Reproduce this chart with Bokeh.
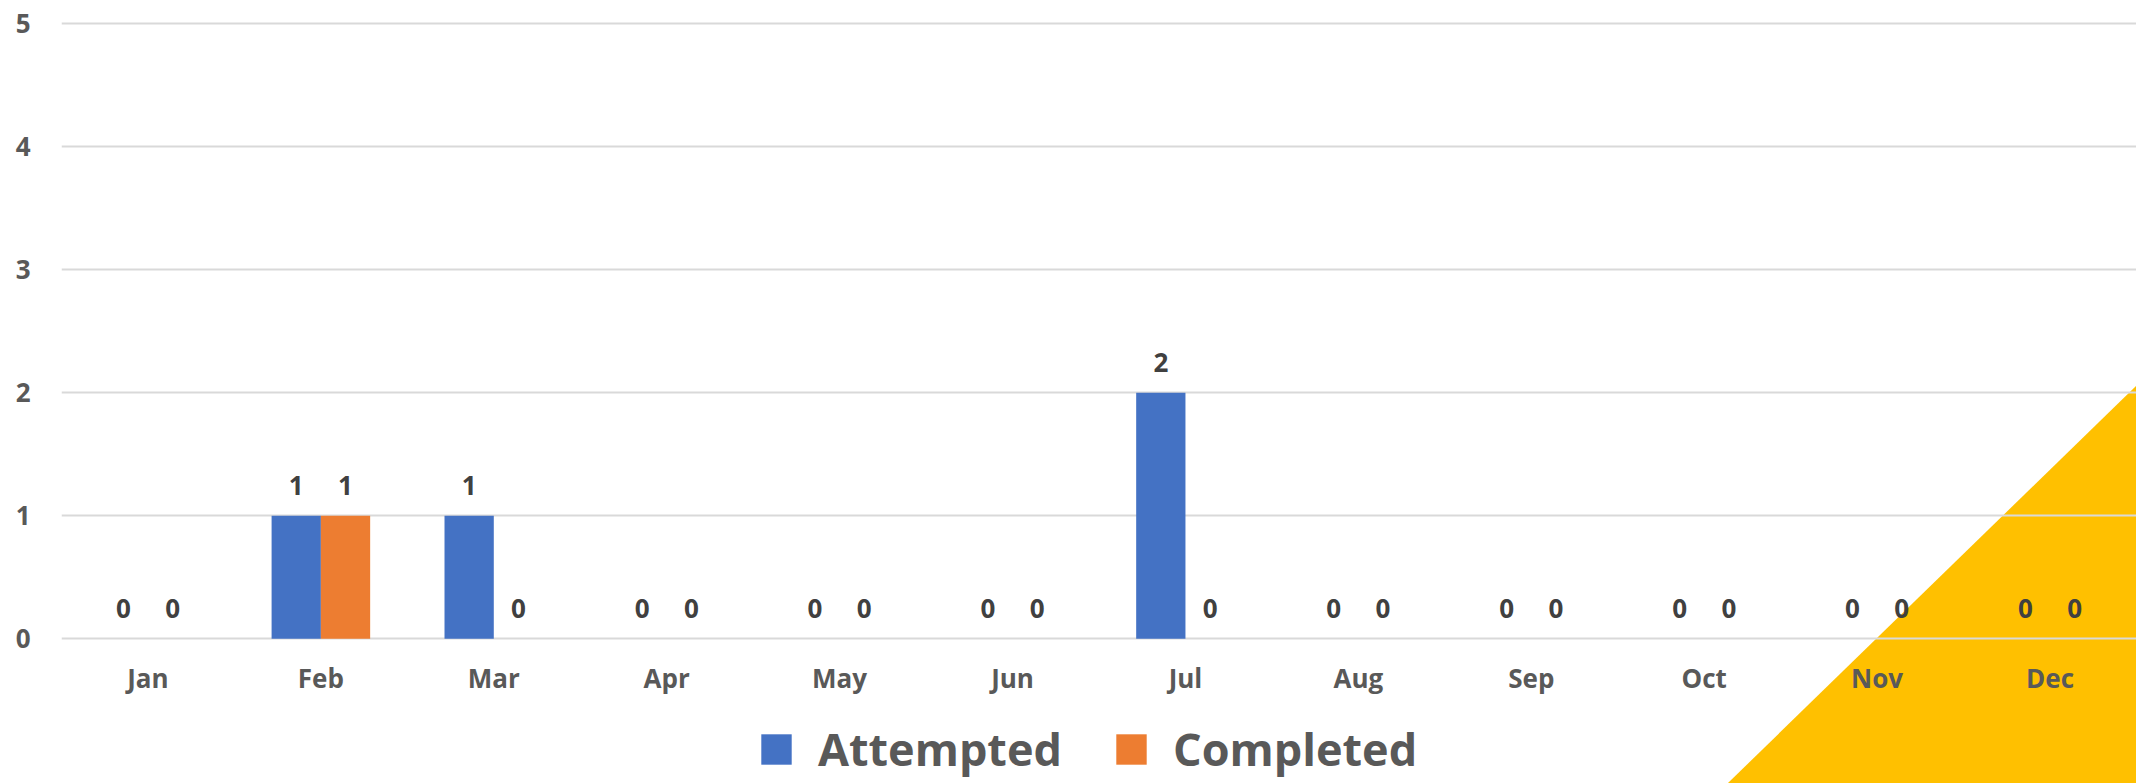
from bokeh.plotting import figure
from bokeh.models import (ColumnDataSource, FactorRange, Range1d, FixedTicker,
                          LabelSet, Legend, LegendItem, PolyAnnotation)
from bokeh.transform import dodge
from bokeh.core.properties import value
from bokeh.embed import file_html
from bokeh.resources import INLINE

months = ["Jan", "Feb", "Mar", "Apr", "May", "Jun",
          "Jul", "Aug", "Sep", "Oct", "Nov", "Dec"]
attempted = [0, 1, 1, 0, 0, 0, 2, 0, 0, 0, 0, 0]
completed = [0, 1, 0, 0, 0, 0, 0, 0, 0, 0, 0, 0]
y_ticks = [0, 1, 2, 3, 4, 5]
series_names = ["Attempted", "Completed"]

BLUE = "#4472C4"
ORANGE = "#ED7D31"
GRID = "#D9D9D9"
AXIS_TXT = "#595959"
LBL_TXT = "#404040"
FONT = "Open Sans"

source = ColumnDataSource(data=dict(
    month=months,
    attempted=attempted,
    completed=completed,
    att_txt=[str(v) for v in attempted],
    com_txt=[str(v) for v in completed],
))

W, H = 2136, 783
p = figure(width=W, height=H, x_range=FactorRange(*months),
           y_range=Range1d(-1.176, 5.065),
           output_backend="svg", toolbar_location=None, title=None,
           min_border_left=61, min_border_right=0, min_border_top=15,
           min_border_bottom=0)
p.outline_line_color = None
p.background_fill_color = None
p.border_fill_color = None

# decorative yellow corner triangle (screen units, relative to the frame)
tri = PolyAnnotation(xs=[2075, 2075, 1666], ys=[398, 0, 0],
                     xs_units="screen", ys_units="screen",
                     fill_color="#FFC000", fill_alpha=1.0, line_color=None,
                     level="image")
p.add_layout(tri)

bw = 0.285
r1 = p.vbar(x=dodge("month", -bw / 2, range=p.x_range), top="attempted", width=bw,
            source=source, fill_color=BLUE, line_color=None)
r2 = p.vbar(x=dodge("month", bw / 2, range=p.x_range), top="completed", width=bw,
            source=source, fill_color=ORANGE, line_color=None)

for col, txt, off in (("attempted", "att_txt", -bw / 2), ("completed", "com_txt", bw / 2)):
    ls = LabelSet(x=dodge("month", off, range=p.x_range), y=col, text=txt, source=source,
                  y_offset=30, text_align="center", text_baseline="middle",
                  text_font=value(FONT), text_font_size=value("26px"),
                  text_font_style="bold", text_color=LBL_TXT)
    p.add_layout(ls)

# grid
p.xgrid.grid_line_color = None
p.ygrid.grid_line_color = GRID
p.ygrid.grid_line_width = 2
p.yaxis.ticker = FixedTicker(ticks=y_ticks)
p.ygrid.ticker = FixedTicker(ticks=y_ticks)

p.xaxis.fixed_location = 0

for ax in (p.xaxis[0], p.yaxis[0]):
    ax.axis_line_color = None
    ax.major_tick_line_color = None
    ax.minor_tick_line_color = None
    ax.major_tick_out = 0
    ax.major_tick_in = 0
    ax.major_label_text_font = FONT
    ax.major_label_text_font_size = "26px"
    ax.major_label_text_font_style = "bold"
    ax.major_label_text_color = AXIS_TXT
p.yaxis.major_label_standoff = 31
p.xaxis.major_label_standoff = 21

for rend, name, lx in ((r1, series_names[0], 696), (r2, series_names[1], 1051)):
    leg = Legend(items=[LegendItem(label=name, renderers=[rend])],
                 location=(lx, 4), orientation="horizontal",
                 padding=0, margin=0, border_line_color=None,
                 background_fill_alpha=0, glyph_width=38, glyph_height=38,
                 label_height=43, label_standoff=23,
                 label_text_font=FONT, label_text_font_size="45px",
                 label_text_font_style="bold",
                 label_text_color=AXIS_TXT)
    p.add_layout(leg, "center")

open("out.html", "w").write(file_html(p, INLINE))
